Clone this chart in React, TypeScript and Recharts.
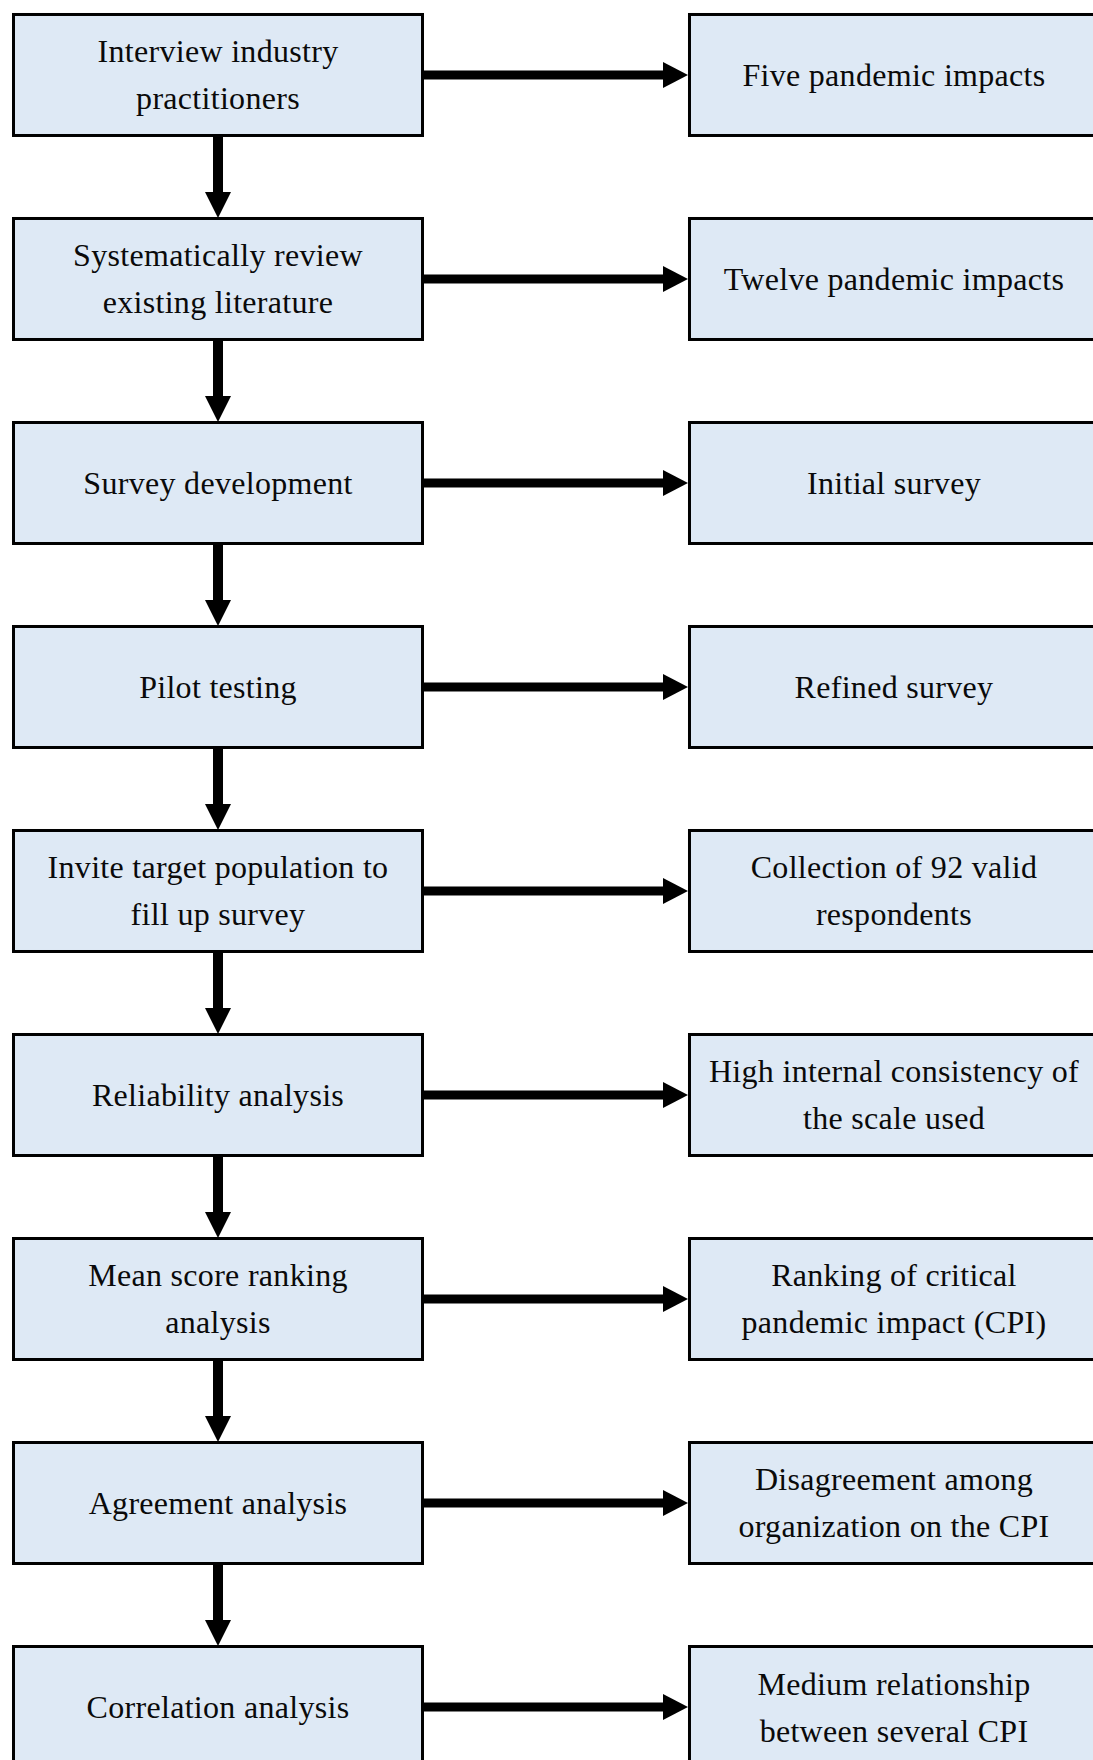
import React from 'react';
import { ScatterChart, Scatter, XAxis, YAxis } from 'recharts';

// left column: method steps, right column: what each step produced
const steps = [
  'Interview industry\npractitioners',
  'Systematically review\nexisting literature',
  'Survey development',
  'Pilot testing',
  'Invite target population to\nfill up survey',
  'Reliability analysis',
  'Mean score ranking\nanalysis',
  'Agreement analysis',
  'Correlation analysis',
];

const outcomes = [
  'Five pandemic impacts',
  'Twelve pandemic impacts',
  'Initial survey',
  'Refined survey',
  'Collection of 92 valid\nrespondents',
  'High internal consistency of\nthe scale used',
  'Ranking of critical\npandemic impact (CPI)',
  'Disagreement among\norganization on the CPI',
  'Medium relationship\nbetween several CPI',
];

const stepNodes = steps.map((label, i) => ({ col: 0, row: i, label }));
const outcomeNodes = outcomes.map((label, i) => ({ col: 1, row: i, label }));
const downArrows = steps.slice(1).map((_, i) => ({ col: 0, row: i + 0.5 }));
const sideArrows = steps.map((_, i) => ({ col: 0.5, row: i }));

const W = 1093;
const H = 1760;
const BOX_W = 412;
const BOX_H = 124;
const FILL = '#DEE9F5';
const FONT = '"Liberation Serif", "Times New Roman", serif';

function Box(props: any) {
  const { cx, cy, payload } = props;
  const lines: string[] = payload.label.split('\n');
  const gap = 47;
  return (
    <g>
      <rect
        x={cx - BOX_W / 2 + 1.5}
        y={cy - BOX_H / 2 + 1.5}
        width={BOX_W - 3}
        height={BOX_H - 3}
        fill={FILL}
        stroke="#000"
        strokeWidth={3}
      />
      {lines.map((t, k) => (
        <text
          key={k}
          x={cx}
          y={cy + (k - (lines.length - 1) / 2) * gap + 11}
          textAnchor="middle"
          fontFamily={FONT}
          fontSize={32}
          letterSpacing={0.3}
          fill="#0a0a0a"
        >
          {t}
        </text>
      ))}
    </g>
  );
}

function DownArrow(props: any) {
  const { cx, cy } = props;
  const top = cy - 40;
  const tip = cy + 41;
  return (
    <g>
      <rect x={cx - 5} y={top} width={10} height={tip - top - 24} fill="#000" />
      <polygon points={`${cx - 13},${tip - 26} ${cx + 13},${tip - 26} ${cx},${tip}`} fill="#000" />
    </g>
  );
}

function SideArrow(props: any) {
  const { cx, cy } = props;
  const start = cx - 132;
  const tip = cx + 132;
  return (
    <g>
      <rect x={start} y={cy - 4.5} width={tip - start - 23} height={9} fill="#000" />
      <polygon points={`${tip - 25},${cy - 13} ${tip - 25},${cy + 13} ${tip},${cy}`} fill="#000" />
    </g>
  );
}

export default function App() {
  return (
    <div style={{ width: W, height: H, overflow: 'hidden', background: '#fff' }}>
      <style>{`body{margin:0;overflow:hidden;}`}</style>
      <ScatterChart width={W} height={H} margin={{ top: 0, right: 0, bottom: 0, left: 0 }}>
        <XAxis type="number" dataKey="col" domain={[-0.3225, 1.2944]} allowDataOverflow hide />
        <YAxis type="number" dataKey="row" domain={[-0.3676, 8.2598]} reversed allowDataOverflow hide />
        <Scatter data={stepNodes} shape={Box} isAnimationActive={false} />
        <Scatter data={outcomeNodes} shape={Box} isAnimationActive={false} />
        <Scatter data={downArrows} shape={DownArrow} isAnimationActive={false} />
        <Scatter data={sideArrows} shape={SideArrow} isAnimationActive={false} />
      </ScatterChart>
    </div>
  );
}
